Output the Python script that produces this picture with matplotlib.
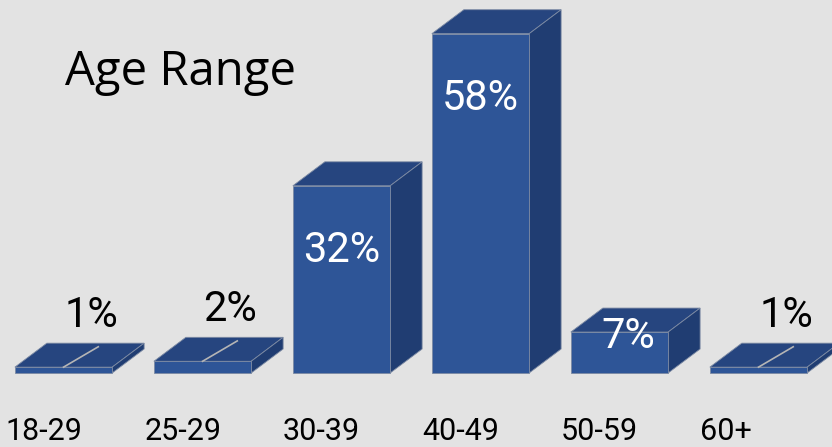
import matplotlib
matplotlib.use('Agg')
import matplotlib.pyplot as plt
from matplotlib.patches import Polygon

# data
categories = ['18-29', '25-29', '30-39', '40-49', '50-59', '60+']
values = [1, 2, 32, 58, 7, 1]
labels = ['1%', '2%', '32%', '58%', '7%', '1%']
title = 'Age Range'

front = '#2E5597'
side = '#203D72'
top = '#26457F'
edge = '#7C8AA3'
bg = '#E3E3E3'

fig = plt.figure(figsize=(8.32, 4.47), dpi=100, facecolor=bg)
ax = fig.add_axes([0, 0, 1, 1])
ax.set_facecolor(bg)
ax.set_xlim(-0.457, 5.529)
ax.set_ylim(-12.65, 63.76)
ax.axis('off')

w = 0.70     # bar width (x units)
dx = 0.23    # depth offset in x
dy = 4.1     # depth offset in y

x = list(range(len(categories)))
ax.bar(x, values, width=w, color=front, edgecolor=edge, linewidth=0.6, zorder=3)

for i, v in zip(x, values):
    l, r = i - w / 2, i + w / 2
    # top face
    ax.add_patch(Polygon([(l, v), (r, v), (r + dx, v + dy), (l + dx, v + dy)],
                         closed=True, facecolor=top, edgecolor=edge, lw=0.6, zorder=2))
    # side face
    ax.add_patch(Polygon([(r, 0), (r + dx, dy), (r + dx, v + dy), (r, v)],
                         closed=True, facecolor=side, edgecolor=edge, lw=0.6, zorder=2))

# value labels
for i, v, t in zip(x, values, labels):
    if v > 20:
        ax.text(i, v - 11, t, color='white', fontsize=30, family='Roboto',
                ha='center', va='center', zorder=5)
    elif v > 3:
        ax.text(i + 0.06, v - 0.7, t, color='white', fontsize=30, family='Roboto',
                ha='center', va='center', zorder=5)
    else:
        ax.plot([i, i + 0.25], [v, v + dy * 0.85], color='#B5B5B5', lw=1.2, zorder=4)
        ax.text(i + 0.2, v + 8.8, t, color='black', fontsize=30, family='Roboto',
                ha='center', va='center', zorder=5)

# category labels
for i, c in zip(x, categories):
    ax.text(i - 0.42, -11.5, c, color='black', fontsize=22, family='Roboto',
            ha='left', va='baseline')

fig.text(65 / 832, 1 - 72 / 447, title, fontsize=34, family='Open Sans',
         ha='left', va='center', color='black')

fig.savefig('out.png', dpi=100, facecolor=bg)
